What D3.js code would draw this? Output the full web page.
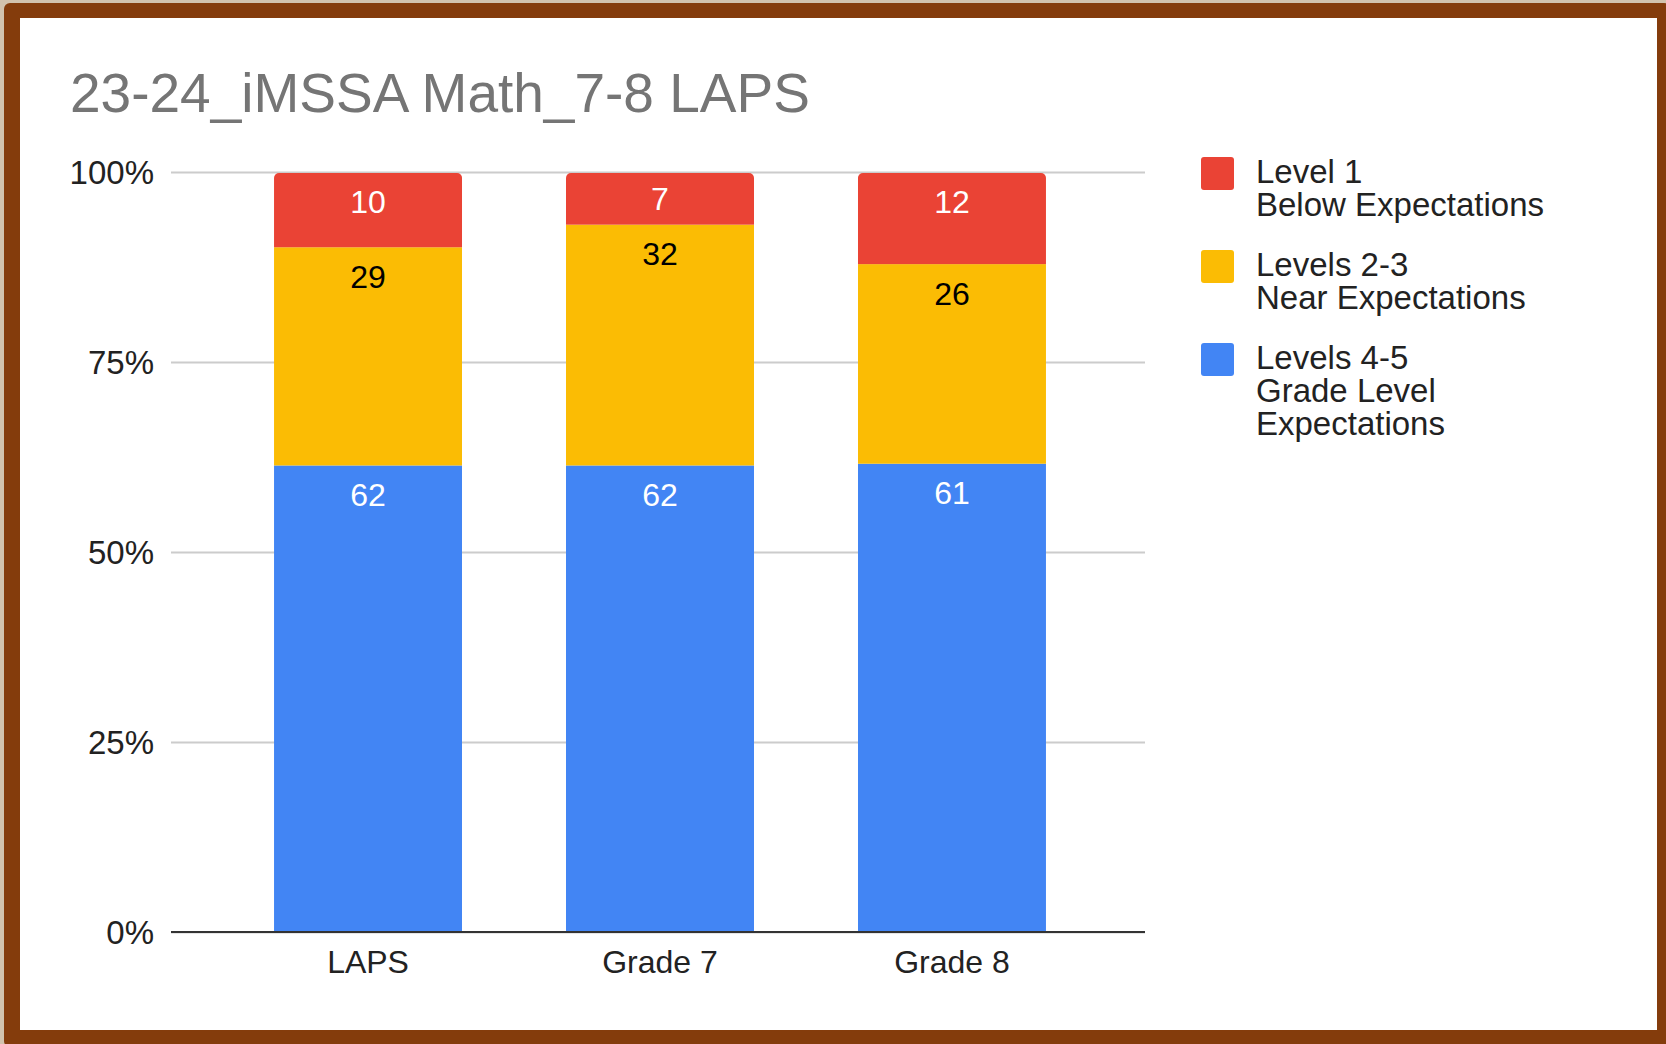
<!DOCTYPE html>
<html>
<head>
<meta charset="utf-8">
<script src="https://cdn.jsdelivr.net/npm/d3@7"></script>
<style>
  html, body { margin: 0; padding: 0; background: #d2c3ae; }
  svg { display: block; font-family: "Liberation Sans", Arial, sans-serif; }
</style>
</head>
<body>
<div id="chart"></div>
<script>
// chart data
const categories = ['LAPS', 'Grade 7', 'Grade 8'];
const gradeLevel = [62, 62, 61];   // Levels 4-5
const nearLevel = [29, 32, 26];    // Levels 2-3
const belowLevel = [10, 7, 12];    // Level 1
const seriesKeys = ['grade', 'near', 'below'];
const seriesColors = { grade: '#4285f4', near: '#fbbc04', below: '#ea4335' };
const labelColors = { grade: '#ffffff', near: '#000000', below: '#ffffff' };
const tickValues = [0, 0.25, 0.5, 0.75, 1];
const legendItems = [
  { key: 'below', lines: ['Level 1', 'Below Expectations'] },
  { key: 'near', lines: ['Levels 2-3', 'Near Expectations'] },
  { key: 'grade', lines: ['Levels 4-5', 'Grade Level', 'Expectations'] },
];
const title = '23-24_iMSSA Math_7-8 LAPS';

const W = 1666, H = 1044;
const plot = { left: 171, right: 1145, top: 172, bottom: 932 };

const rows = categories.map((c, i) => ({
  cat: c, grade: gradeLevel[i], near: nearLevel[i], below: belowLevel[i],
}));

const svg = d3.select('#chart').append('svg')
  .attr('width', W)
  .attr('height', H);

// frame
svg.append('rect')
  .attr('x', 4).attr('y', 3)
  .attr('width', W).attr('height', H)
  .attr('rx', 6)
  .attr('fill', '#843c0c');
svg.append('rect')
  .attr('x', 20).attr('y', 18)
  .attr('width', 1637).attr('height', 1012)
  .attr('fill', '#ffffff');

svg.append('text')
  .attr('x', 70).attr('y', 112)
  .attr('fill', '#757575')
  .style('font-size', '55px')
  .text(title);

const x = d3.scaleBand()
  .domain(categories)
  .range([plot.left + 2, plot.right + 2])
  .paddingInner(0.356)
  .paddingOuter(0.346);

const y = d3.scaleLinear()
  .domain([0, 1])
  .range([plot.bottom, plot.top]);

// gridlines + y labels
const yAxis = svg.append('g')
  .attr('transform', `translate(${plot.left},0)`)
  .call(d3.axisLeft(y)
    .tickValues(tickValues)
    .tickFormat(d3.format('.0%'))
    .tickSize(-(plot.right - plot.left))
    .tickPadding(17));
yAxis.select('.domain').remove();
yAxis.selectAll('line').attr('stroke', '#cccccc').attr('stroke-width', 2);
yAxis.selectAll('text')
  .attr('fill', '#222222')
  .style('font-size', '33px')
  .attr('dy', '0.36em');

const stacked = d3.stack()
  .keys(seriesKeys)
  .offset(d3.stackOffsetExpand)(rows);

const defs = svg.append('defs');
categories.forEach((c, i) => {
  defs.append('clipPath').attr('id', 'clip' + i)
    .append('rect')
    .attr('x', x(c))
    .attr('y', y(1) + 1)
    .attr('width', x.bandwidth())
    .attr('height', y(0) - y(1) + 10)
    .attr('rx', 5);
});

const layers = svg.append('g').selectAll('g')
  .data(stacked)
  .join('g')
  .attr('fill', (d) => seriesColors[d.key]);

layers.selectAll('rect')
  .data((d) => d)
  .join('rect')
  .attr('clip-path', (d, i) => `url(#clip${i})`)
  .attr('x', (d) => x(d.data.cat))
  .attr('y', (d) => y(d[1]))
  .attr('width', x.bandwidth())
  .attr('height', (d) => y(d[0]) - y(d[1]));

// data labels
stacked.forEach((layer) => {
  svg.append('g').selectAll('text')
    .data(layer)
    .join('text')
    .attr('x', (d) => x(d.data.cat) + x.bandwidth() / 2)
    .attr('y', (d) => {
      const top = y(d[1]);
      const h = y(d[0]) - top;
      return top + Math.min(29, h / 2);
    })
    .attr('dy', '0.36em')
    .attr('text-anchor', 'middle')
    .attr('fill', labelColors[layer.key])
    .style('font-size', '32px')
    .text((d) => d.data[layer.key]);
});

// baseline + category labels
const xAxis = svg.append('g')
  .attr('transform', `translate(0,${plot.bottom})`)
  .call(d3.axisBottom(x).tickSize(0).tickPadding(18));
xAxis.select('.domain')
  .attr('d', `M${plot.left},0H${plot.right}`)
  .attr('stroke', '#333333').attr('stroke-width', 2);
xAxis.selectAll('text')
  .attr('fill', '#222222')
  .style('font-size', '32px');

// legend
const legend = svg.append('g').attr('transform', 'translate(1201,157)');
const item = legend.selectAll('g')
  .data(legendItems)
  .join('g')
  .attr('transform', (d, i) => `translate(0,${i * 93})`);
item.append('rect')
  .attr('width', 33).attr('height', 33)
  .attr('rx', 3)
  .attr('fill', (d) => seriesColors[d.key]);
item.selectAll('text')
  .data((d) => d.lines)
  .join('text')
  .attr('x', 55)
  .attr('y', (d, i) => 26 + i * 33)
  .attr('fill', '#222222')
  .style('font-size', '33px')
  .text((d) => d);
</script>
</body>
</html>
